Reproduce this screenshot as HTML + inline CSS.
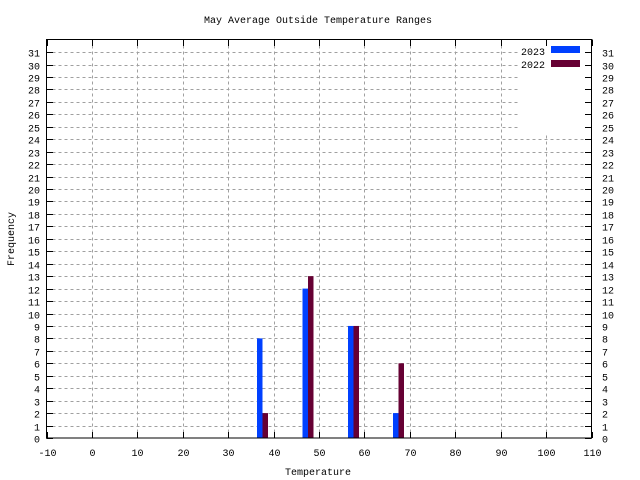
<!DOCTYPE html>
<html><head><meta charset="utf-8"><style>
html,body{margin:0;padding:0;background:#fff;}
svg{display:block;font-family:"Liberation Mono",monospace;font-size:10px;}
</style></head><body>
<svg width="640" height="480" xmlns="http://www.w3.org/2000/svg">
<rect width="640" height="480" fill="#fff"/>
<text x="318" y="23" text-anchor="middle">May Average Outside Temperature Ranges</text>
<g stroke="#a0a0a0" stroke-dasharray="3,3" stroke-width="1" id="grid"></g>
<g id="bars"></g>
<rect x="520" y="40" width="70.5" height="94" fill="#fff"/>
<g id="ticks" stroke="#000" stroke-width="1"></g>
<rect x="46.5" y="39.5" width="545" height="398.5" fill="none" stroke="#000" stroke-width="1"/>
<g id="labels"></g>
<text x="545" y="55" text-anchor="end">2023</text>
<rect x="551" y="46" width="29" height="7" fill="#0040ff"/>
<text x="545" y="68" text-anchor="end">2022</text>
<rect x="551" y="60" width="29" height="7" fill="#660033"/>
<text x="318" y="475" text-anchor="middle">Temperature</text>
<text transform="translate(14,239) rotate(-90)" text-anchor="middle">Frequency</text>
</svg>
<script>
var ns="http://www.w3.org/2000/svg";
function el(p,t,a,txt){var e=document.createElementNS(ns,t);for(var k in a)e.setAttribute(k,a[k]);if(txt!==undefined)e.textContent=txt;document.getElementById(p).appendChild(e);}
function X(v){return 46.5+(v+10)*545/120;}
function Y(v){return 438-v*12.45;}
for(var v=1;v<=31;v++){var y=Math.round(Y(v))+0.5;el("grid","line",{x1:46.5,x2:591.5,y1:y,y2:y});}
for(var t=0;t<=100;t+=10){var x=Math.round(X(t))+0.5;el("grid","line",{x1:x,x2:x,y1:39.5,y2:438});}
for(var v=0;v<=31;v++){var y=Math.round(Y(v))+0.5;
el("ticks","line",{x1:46.5,x2:53,y1:y,y2:y});el("ticks","line",{x1:585,x2:591.5,y1:y,y2:y});
el("labels","text",{x:40,y:y+4,"text-anchor":"end"},v);el("labels","text",{x:602,y:y+4},v);}
for(var t=-10;t<=110;t+=10){var x=Math.round(X(t))+0.5;
el("ticks","line",{x1:x,x2:x,y1:438,y2:432});el("ticks","line",{x1:x,x2:x,y1:39.5,y2:46});
el("labels","text",{x:x,y:456,"text-anchor":"middle"},t);}
var starts=[257,302.5,348,393],b=[8,12,9,2],m=[2,13,9,6];
for(var i=0;i<4;i++){var s=starts[i];
el("bars","rect",{x:s,y:Y(b[i]),width:5.5,height:438-Y(b[i]),fill:"#0040ff"});
el("bars","rect",{x:s+5.5,y:Y(m[i]),width:5.5,height:438-Y(m[i]),fill:"#660033"});}
</script>
</body></html>
